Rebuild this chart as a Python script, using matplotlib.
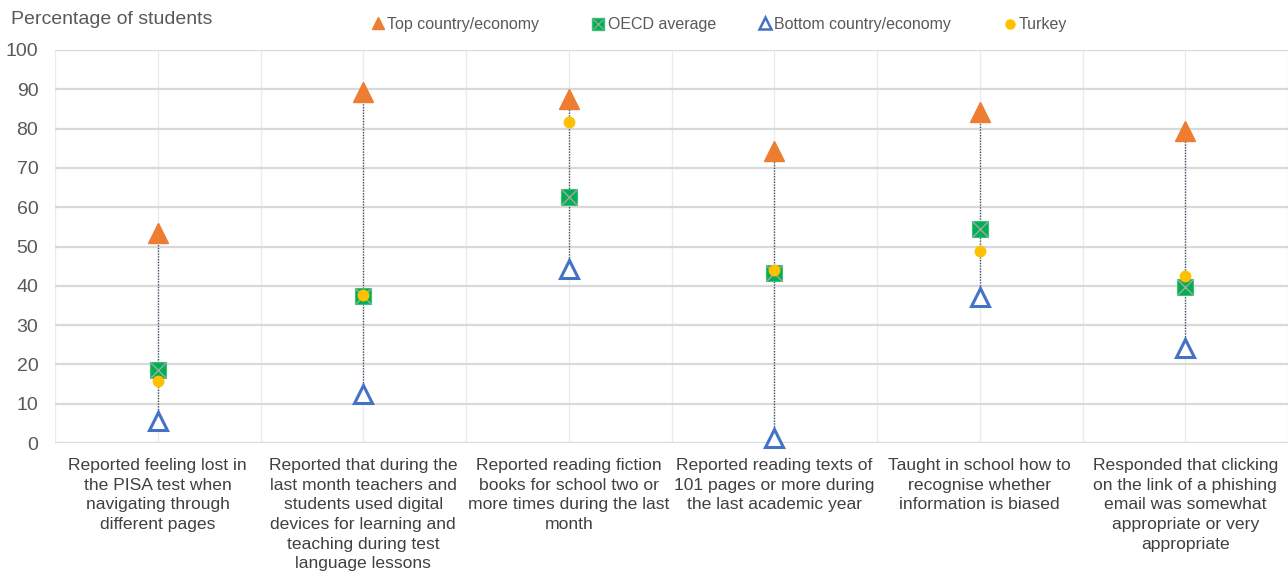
import matplotlib
matplotlib.use("Agg")
import matplotlib.pyplot as plt

plt.rcParams['font.family'] = ['Liberation Sans', 'DejaVu Sans']

categories = [
    "Reported feeling lost in\nthe PISA test when\nnavigating through\ndifferent pages",
    "Reported that during the\nlast month teachers and\nstudents used digital\ndevices for learning and\nteaching during test\nlanguage lessons",
    "Reported reading fiction\nbooks for school two or\nmore times during the last\nmonth",
    "Reported reading texts of\n101 pages or more during\nthe last academic year",
    "Taught in school how to\nrecognise whether\ninformation is biased",
    "Responded that clicking\non the link of a phishing\nemail was somewhat\nappropriate or very\nappropriate",
]
top = [53.5, 89.3, 87.6, 74.3, 84.2, 79.4]
oecd = [18.7, 37.4, 62.6, 43.3, 54.5, 39.7]
bottom = [5.6, 12.5, 44.4, 1.3, 37.2, 24.3]
turkey = [15.9, 37.6, 81.7, 44.0, 48.9, 42.6]
yticks = list(range(0, 101, 10))

W, H = 1288, 574
fig = plt.figure(figsize=(W / 100, H / 100), dpi=100)
ax = fig.add_axes([55 / W, (H - 443) / H, (1288 - 55) / W, (443 - 50) / H])

x = list(range(len(categories)))
for xi, t, b in zip(x, top, bottom):
    ax.plot([xi, xi], [b, t], color='#44546A', lw=1.0, ls=(0, (1, 1)), zorder=2)

ax.plot(x, top, ls='none', marker='^', ms=14, mfc='#ED7D31', mec='#ED7D31', zorder=4, clip_on=False)
ax.plot(x, bottom, ls='none', marker='^', ms=13, mfc='white', mec='#4472C4', mew=2.2, zorder=4, clip_on=False)
ax.plot(x, oecd, ls='none', marker='s', ms=12, mfc='#00B050', mec='#3DBE77', mew=0.8, zorder=4, clip_on=False)
ax.plot(x, oecd, ls='none', marker='x', ms=11, mec='#A5A5A5', mew=1.0, zorder=5, clip_on=False)
ax.plot(x, turkey, ls='none', marker='o', ms=7.5, mfc='#FFC000', mec='#FFC000', zorder=6, clip_on=False)

ax.set_xlim(-0.5, len(categories) - 0.5)
ax.set_ylim(0, 100)
ax.set_yticks(yticks)
ax.set_yticklabels([str(v) for v in yticks], fontsize=14, color='#595959')
ax.set_xticks(x)
ax.set_xticklabels(categories, fontsize=12.6, color='#404040', linespacing=1.38)
ax.set_xticks([i - 0.5 for i in range(len(categories) + 1)], minor=True)
ax.tick_params(axis='both', length=0, which='both')
ax.tick_params(axis='x', pad=11)
ax.tick_params(axis='y', pad=12)
for s in ax.spines.values():
    s.set_visible(False)
ax.grid(axis='y', color='#D9D9D9', lw=1.6, zorder=0)
ax.grid(axis='x', which='both', color='#EBEBEB', lw=1.0, zorder=0)
ax.set_axisbelow(True)

fig.text(11 / W, 1 - 20 / H, "Percentage of students", fontsize=14, color='#595959',
         ha='left', va='center')

# legend drawn manually
lax = fig.add_axes([0, 0, 1, 1], facecolor='none')
lax.set_xlim(0, W)
lax.set_ylim(H, 0)
lax.axis('off')
ly = 24
fs = 11.5
lax.plot([378], [ly - 1], marker='^', ms=9, mfc='#ED7D31', mec='#ED7D31', ls='none')
lax.text(387, ly, "Top country/economy", fontsize=fs, color='#595959', va='center')
lax.plot([598], [ly], marker='s', ms=8, mfc='#00B050', mec='#3DBE77', ls='none')
lax.plot([598], [ly], marker='x', ms=7, mec='#A5A5A5', mew=0.8, ls='none')
lax.text(608, ly, "OECD average", fontsize=fs, color='#595959', va='center')
lax.plot([765], [ly - 1], marker='^', ms=8, mfc='white', mec='#4472C4', mew=1.8, ls='none')
lax.text(774, ly, "Bottom country/economy", fontsize=fs, color='#595959', va='center')
lax.plot([1010], [ly], marker='o', ms=6.5, mfc='#FFC000', mec='#FFC000', ls='none')
lax.text(1019, ly, "Turkey", fontsize=fs, color='#595959', va='center')

fig.savefig("out.png", dpi=100)
